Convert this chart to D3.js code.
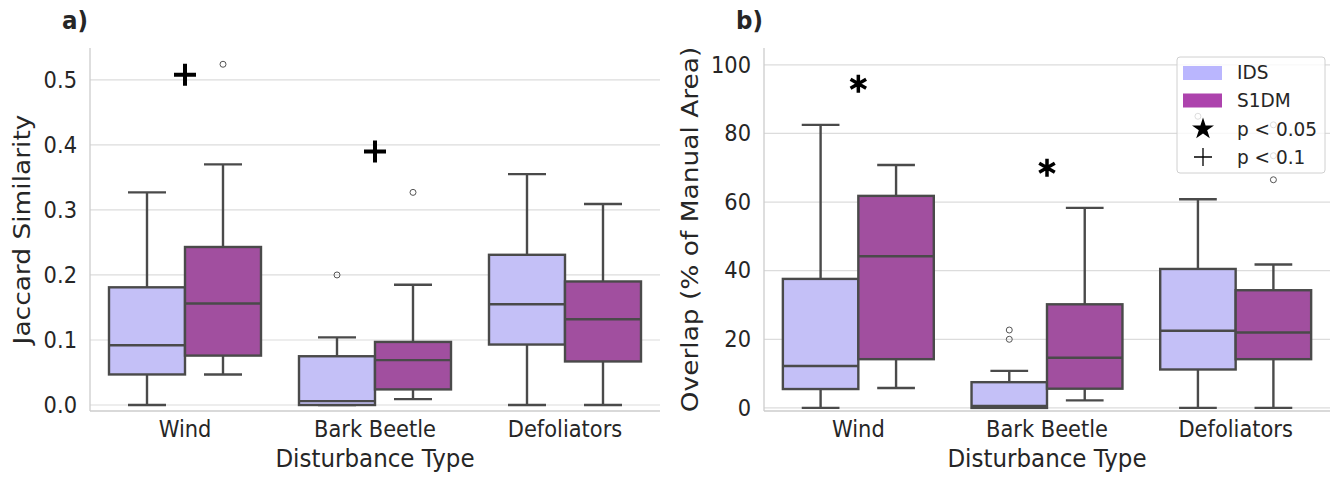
<!DOCTYPE html>
<html>
<head>
<meta charset="utf-8">
<script src="https://cdn.jsdelivr.net/npm/d3@7"></script>
<style>
  body { margin: 0; background: #fff; }
  text { font-family: "DejaVu Sans", sans-serif; fill: #262626; }
  /* the figure is slightly stretched vertically */
  text.st { transform-box: fill-box; transform-origin: center; transform: scaleY(1.07); }
</style>
</head>
<body>
<div id="chart"></div>
<script>
// data
var categories = ["Wind", "Bark Beetle", "Defoliators"];
var hues = ["IDS", "S1DM"];

// box stats: [whiskerLow, q1, median, q3, whiskerHigh]
var jaccardIDS = [
    [0.0, 0.047, 0.092, 0.181, 0.327],
    [0.0, 0.0, 0.006, 0.075, 0.104],
    [0.0, 0.093, 0.155, 0.231, 0.355]
];
var jaccardS1DM = [
    [0.047, 0.076, 0.156, 0.243, 0.370],
    [0.009, 0.024, 0.069, 0.097, 0.185],
    [0.0, 0.067, 0.132, 0.190, 0.309]
];
var jaccardOutIDS = [[], [0.200], []];
var jaccardOutS1DM = [[0.524], [0.327], []];

var overlapIDS = [
    [0.0, 5.5, 12.2, 37.6, 82.5],
    [0.0, 0.0, 0.6, 7.5, 10.8],
    [0.0, 11.2, 22.5, 40.5, 60.8]
];
var overlapS1DM = [
    [5.8, 14.2, 44.2, 61.8, 70.8],
    [2.2, 5.6, 14.6, 30.2, 58.3],
    [0.0, 14.2, 22.0, 34.3, 41.8]
];
var overlapOutIDS = [[], [20.0, 22.7], [85.0]];
var overlapOutS1DM = [[], [], [66.5, 73.5, 82.5]];

// significance markers
var jaccardSig = [{cat: "Wind", y: 0.508}, {cat: "Bark Beetle", y: 0.39}];
var overlapSig = [{cat: "Wind", y: 94.5}, {cat: "Bark Beetle", y: 70}];

var jaccardTicks = [0, 0.1, 0.2, 0.3, 0.4, 0.5];
var overlapTicks = [0, 20, 40, 60, 80, 100];

var boxColors = {IDS: "#c4c0f7", S1DM: "#a14f9f"};
var legendColors = {IDS: "#bab6fe", S1DM: "#ad43ad"};
var lineColor = "#4a4a4a";
var stretch = 1.07;

var svgWidth = 1338;
var svgHeight = 477;

var svg = d3.select("#chart")
    .append("svg")
    .attr("width", svgWidth)
    .attr("height", svgHeight);

// text placed at (x,y), stretched vertically like the reference
function addText(parent, x, y, str, size, anchor, rotate) {
    var tf = rotate
        ? `translate(${x},${y}) scale(1,1.15) rotate(-90)`
        : `translate(${x},${y}) scale(1,${stretch})`;
    var t = parent.append("g")
        .attr("transform", tf)
        .append("text")
        .attr("text-anchor", anchor || "start")
        .attr("font-size", size)
        .text(str);
    return t;
}

function drawPanel(opts) {
    var x = d3.scaleBand()
        .domain(categories)
        .range([opts.left, opts.right])
        .padding(0);
    var hx = d3.scaleBand()
        .domain(hues)
        .range([x.bandwidth() * 0.1, x.bandwidth() * 0.9]);
    var y = d3.scaleLinear()
        .domain(opts.yDomain)
        .range([opts.bottom, opts.top]);

    var g = svg.append("g");

    // gridlines
    g.append("g").selectAll("line")
        .data(opts.ticks)
        .enter()
        .append("line")
        .attr("x1", opts.left)
        .attr("x2", opts.right)
        .attr("y1", d => y(d))
        .attr("y2", d => y(d))
        .attr("stroke", "#dcdcdc")
        .attr("stroke-width", 1.2);

    // spines
    g.append("line")
        .attr("x1", opts.left).attr("x2", opts.left)
        .attr("y1", opts.top).attr("y2", opts.bottom)
        .attr("stroke", "#cccccc").attr("stroke-width", 1.3);
    g.append("line")
        .attr("x1", opts.left).attr("x2", opts.right)
        .attr("y1", opts.bottom).attr("y2", opts.bottom)
        .attr("stroke", "#cccccc").attr("stroke-width", 1.3);

    // y axis
    var leftAxis = d3.axisLeft(y)
        .tickValues(opts.ticks)
        .tickFormat(opts.fmt)
        .tickSize(0)
        .tickPadding(13);
    var ya = g.append("g")
        .attr("transform", `translate(${opts.left},0)`)
        .call(leftAxis);
    ya.select(".domain").remove();
    ya.selectAll("text")
        .attr("class", "st")
        .attr("font-size", "21px")
        .attr("fill", "#262626")
        .attr("font-family", "DejaVu Sans");

    // x axis
    var bottomAxis = d3.axisBottom(x).tickSize(0).tickPadding(11);
    var xa = g.append("g")
        .attr("transform", `translate(0,${opts.bottom})`)
        .call(bottomAxis);
    xa.select(".domain").remove();
    xa.selectAll("text")
        .attr("class", "st")
        .attr("font-size", "21px")
        .attr("fill", "#262626")
        .attr("font-family", "DejaVu Sans");

    // boxes
    hues.forEach(function(h) {
        var stats = opts.stats[h];
        var outs = opts.outliers[h];
        var bw = hx.bandwidth();
        categories.forEach(function(c, i) {
            var s = stats[i];
            var x0 = x(c) + hx(h);
            var cx = x0 + bw / 2;
            var bg = g.append("g");
            // whiskers
            bg.append("line")
                .attr("x1", cx).attr("x2", cx)
                .attr("y1", y(s[0])).attr("y2", y(s[1]))
                .attr("stroke", lineColor).attr("stroke-width", 2.4);
            bg.append("line")
                .attr("x1", cx).attr("x2", cx)
                .attr("y1", y(s[3])).attr("y2", y(s[4]))
                .attr("stroke", lineColor).attr("stroke-width", 2.4);
            // caps
            [s[0], s[4]].forEach(function(v) {
                bg.append("line")
                    .attr("x1", cx - bw / 4).attr("x2", cx + bw / 4)
                    .attr("y1", y(v)).attr("y2", y(v))
                    .attr("stroke", lineColor).attr("stroke-width", 2.4);
            });
            // box
            bg.append("rect")
                .attr("x", x0)
                .attr("y", y(s[3]))
                .attr("width", bw)
                .attr("height", Math.max(y(s[1]) - y(s[3]), 0))
                .attr("fill", boxColors[h])
                .attr("stroke", lineColor)
                .attr("stroke-width", 2.4);
            // median
            bg.append("line")
                .attr("x1", x0).attr("x2", x0 + bw)
                .attr("y1", y(s[2])).attr("y2", y(s[2]))
                .attr("stroke", lineColor).attr("stroke-width", 2.4);
            // outliers
            bg.selectAll("circle")
                .data(outs[i])
                .enter()
                .append("circle")
                .attr("cx", cx)
                .attr("cy", d => y(d))
                .attr("r", 3)
                .attr("fill", "none")
                .attr("stroke", "#555")
                .attr("stroke-width", 1);
        });
    });

    // axis labels
    addText(g, (opts.left + opts.right) / 2, 467, "Disturbance Type", "23px", "middle");
    addText(g, opts.ylabelX, (opts.top + opts.bottom) / 2, opts.ylabel, "23px", "middle", true);

    // panel letter
    addText(g, opts.letterX, 29, opts.letter, "23px").attr("font-weight", "bold");

    return {g: g, x: x, y: y};
}

var pa = drawPanel({
    left: 90, right: 660, top: 48, bottom: 411,
    yDomain: [-0.0092, 0.549],
    ticks: jaccardTicks,
    fmt: d3.format(".1f"),
    stats: {IDS: jaccardIDS, S1DM: jaccardS1DM},
    outliers: {IDS: jaccardOutIDS, S1DM: jaccardOutS1DM},
    ylabel: "Jaccard Similarity",
    ylabelX: 30,
    letter: "a)",
    letterX: 62
});

var pb = drawPanel({
    left: 764, right: 1330, top: 48, bottom: 411,
    yDomain: [-0.9, 104.9],
    ticks: overlapTicks,
    fmt: d3.format("d"),
    stats: {IDS: overlapIDS, S1DM: overlapS1DM},
    outliers: {IDS: overlapOutIDS, S1DM: overlapOutS1DM},
    ylabel: "Overlap (% of Manual Area)",
    ylabelX: 698,
    letter: "b)",
    letterX: 736
});

// plus markers (p < 0.1) on panel a
pa.g.append("g").selectAll("path")
    .data(jaccardSig)
    .enter()
    .append("path")
    .attr("d", function(d) {
        var cx = pa.x(d.cat) + pa.x.bandwidth() / 2;
        var cy = pa.y(d.y);
        return `M${cx - 11},${cy}H${cx + 11}M${cx},${cy - 11}V${cy + 11}`;
    })
    .attr("stroke", "#000")
    .attr("stroke-width", 4)
    .attr("fill", "none");

// asterisk markers (p < 0.05) on panel b
pb.g.append("g").selectAll("path")
    .data(overlapSig)
    .enter()
    .append("path")
    .attr("d", function(d) {
        var cx = pb.x(d.cat) + pb.x.bandwidth() / 2;
        var cy = pb.y(d.y);
        var r = 9;
        var p = "";
        [90, 30, -30].forEach(function(a) {
            var rad = a * Math.PI / 180;
            var dx = r * Math.cos(rad), dy = r * Math.sin(rad);
            p += `M${cx - dx},${cy - dy}L${cx + dx},${cy + dy}`;
        });
        return p;
    })
    .attr("stroke", "#000")
    .attr("stroke-width", 3.5)
    .attr("fill", "none");

// legend
var leg = svg.append("g").attr("transform", "translate(1177,57)");
leg.append("rect")
    .attr("x", 0).attr("y", 0)
    .attr("width", 148).attr("height", 116)
    .attr("rx", 3)
    .attr("fill", "rgba(255,255,255,0.8)")
    .attr("stroke", "#d0d0d0")
    .attr("stroke-width", 1);

hues.forEach(function(h, i) {
    leg.append("rect")
        .attr("x", 6).attr("y", 9 + i * 27.5)
        .attr("width", 39).attr("height", 14)
        .attr("fill", legendColors[h]);
    addText(leg, 60, 22 + i * 28, h, "18.5px");
});

var star = d3.symbol().type(d3.symbolStar).size(150);
leg.append("path")
    .attr("d", star())
    .attr("transform", "translate(26,72)")
    .attr("fill", "#000");
addText(leg, 60, 79, "p < 0.05", "18.5px");

leg.append("path")
    .attr("d", "M17,100H35M26,91V109")
    .attr("stroke", "#000")
    .attr("stroke-width", 1.3);
addText(leg, 60, 107, "p < 0.1", "18.5px");
</script>
</body>
</html>
